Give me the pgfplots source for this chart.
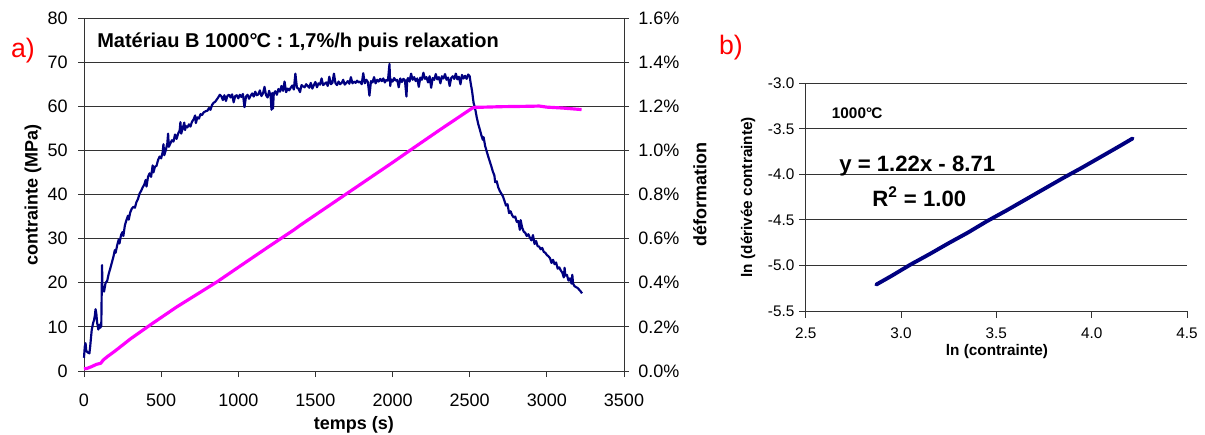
\documentclass[border=0pt]{standalone}
\usepackage{pgfplots}
\pgfplotsset{compat=1.18}
\usepackage{fontspec}
\setmainfont{Liberation Sans}
\definecolor{navy}{HTML}{000080}
\definecolor{mag}{HTML}{FF00FF}
\definecolor{gridc}{HTML}{333333}

\pgfplotstableread{
t s
0 3.0
5 5.5
10 6.3
15 4.5
25 4.2
35 4.0
40 5.5
50 9.3
60 11.0
65 11.5
70 12.5
75 14.0
80 13.0
85 11.0
93 9.4
100 10.5
105 9.8
112 10.2
117 24.0
120 18.0
125 18.8
130 18.0
140 20.0
150 20.4
160 22.0
170 23.2
180 24.5
190 25.8
200 27.4
205 26.8
215 28.5
225 29.8
230 28.9
240 30.8
250 31.5
255 30.6
265 33.0
275 34.2
285 35.2
290 34.3
300 36.0
310 36.8
320 37.2
330 37.0
340 38.3
350 39.0
360 40.2
370 40.8
380 41.6
390 42.2
400 43.3
405 41.8
415 44.0
425 44.8
435 44.0
445 46.6
450 45.0
460 46.3
470 46.5
480 47.8
490 48.6
500 48.2
510 49.6
515 51.4
520 48.9
530 50.0
540 51.6
545 53.8
550 50.8
560 51.6
570 52.3
580 52.0
590 53.6
600 52.6
610 53.8
620 54.5
625 56.4
630 53.8
640 55.0
650 56.3
655 54.6
660 55.5
670 55.2
680 55.9
690 55.4
700 56.5
710 57.0
720 57.9
725 56.2
735 57.5
745 57.2
755 58.2
765 58.0
775 58.6
790 58.9
800 59.0
810 59.6
820 59.2
830 60.3
840 60.8
850 61.0
860 61.5
870 62.0
880 62.6
890 62.3
900 61.4
910 62.5
920 61.2
930 62.4
940 62.6
950 62.0
960 62.7
970 60.9
980 62.3
990 62.5
1000 61.8
1010 62.6
1020 62.1
1030 62.8
1040 59.8
1050 62.2
1060 62.6
1070 61.7
1080 62.4
1090 62.9
1100 62.2
1110 63.3
1120 62.5
1130 62.7
1140 63.6
1150 62.3
1160 62.9
1170 64.4
1180 62.5
1190 62.0
1200 63.5
1210 62.2
1215 59.2
1220 63.0
1225 59.5
1230 62.9
1240 63.4
1250 62.6
1260 63.9
1270 63.3
1280 64.6
1290 63.5
1300 65.6
1310 63.2
1320 64.0
1330 63.6
1340 64.2
1350 64.7
1360 63.8
1370 67.4
1380 64.2
1390 64.0
1400 63.2
1410 64.8
1420 64.5
1430 64.3
1440 65.0
1450 64.6
1460 64.2
1470 65.3
1480 64.0
1490 64.8
1500 65.5
1510 64.3
1520 65.2
1530 64.9
1540 66.3
1550 64.8
1560 65.1
1570 65.4
1580 64.6
1590 66.7
1600 65.0
1610 65.3
1620 67.4
1630 65.2
1640 64.8
1650 65.6
1660 65.0
1670 65.3
1680 66.0
1690 64.9
1700 65.3
1710 65.7
1720 65.1
1730 66.6
1740 65.2
1750 65.6
1760 65.3
1770 65.8
1780 65.4
1790 65.6
1800 65.0
1810 67.5
1820 65.2
1830 66.0
1840 65.5
1850 62.4
1860 65.7
1870 65.4
1880 66.6
1890 65.2
1900 66.0
1910 65.6
1920 66.2
1930 65.7
1940 66.3
1950 65.4
1960 66.0
1970 65.8
1980 69.6
1985 64.6
1990 66.1
2000 65.6
2010 66.4
2020 65.8
2030 66.0
2040 64.3
2050 66.3
2060 65.5
2070 66.2
2080 65.9
2090 62.2
2095 66.0
2100 66.4
2110 65.6
2120 67.4
2130 66.0
2140 66.6
2150 65.7
2160 66.3
2170 64.4
2180 66.5
2190 66.0
2200 67.6
2210 66.2
2220 66.6
2230 65.4
2240 66.8
2250 64.2
2260 66.4
2270 66.0
2280 67.3
2290 66.1
2300 66.6
2310 65.2
2320 66.8
2330 66.3
2340 67.3
2350 66.0
2360 66.5
2370 64.6
2380 66.4
2390 66.8
2400 66.2
2410 67.4
2420 66.1
2430 66.7
2440 65.0
2450 67.1
2460 66.3
2470 66.9
2480 66.2
2490 67.2
2500 66.8
2505 65.5
2515 63.5
2525 60.8
2535 59.5
2545 57.6
2555 56.0
2565 54.8
2575 53.5
2585 52.4
2590 53.0
2600 51.0
2610 49.8
2620 48.6
2630 47.5
2640 46.4
2650 45.2
2660 44.3
2665 42.8
2675 43.0
2685 41.6
2695 40.8
2705 40.2
2715 39.6
2725 38.6
2735 37.5
2745 37.8
2755 35.8
2765 36.2
2775 35.3
2785 34.8
2795 35.0
2805 33.8
2815 34.0
2825 32.0
2830 34.2
2840 32.5
2850 31.6
2860 31.3
2870 30.6
2880 31.0
2890 30.2
2900 29.6
2910 30.8
2920 28.8
2930 29.5
2940 28.3
2950 28.2
2960 27.6
2970 27.9
2980 27.0
2990 26.8
3000 26.3
3010 26.0
3020 25.6
3030 24.5
3040 25.2
3050 24.2
3060 24.6
3070 23.2
3080 23.5
3090 22.8
3100 22.3
3110 21.2
3115 23.4
3120 21.6
3130 21.8
3140 20.5
3150 21.0
3160 19.8
3165 21.8
3170 19.8
3180 19.2
3190 19.0
3200 18.8
3210 18.4
3220 18.0
3228 17.6
}\stress

\pgfplotstableread{
t d
0 0.010
20 0.012
50 0.020
80 0.030
108 0.035
125 0.050
151 0.065
200 0.090
300 0.145
432 0.210
600 0.290
864 0.405
1000 0.470
1200 0.565
1361 0.640
1400 0.660
1600 0.755
1800 0.850
2000 0.945
2113 1.000
2300 1.090
2513 1.190
2530 1.195
2600 1.196
2700 1.198
2800 1.199
2900 1.200
2950 1.201
3000 1.196
3100 1.192
3225 1.185
}\deform

\pgfplotstableread{
x y
2.870 -5.210
2.950 -5.115
3.050 -4.990
3.150 -4.875
3.250 -4.755
3.350 -4.640
3.450 -4.515
3.550 -4.400
3.650 -4.280
3.750 -4.160
3.850 -4.040
3.950 -3.925
4.050 -3.805
4.150 -3.685
4.215 -3.605
}\lnfit

\begin{document}
\begin{tikzpicture}
\useasboundingbox (0,0) rectangle (723pt,260.4pt);
\pgfplotsset{
  common/.style={
    scale only axis, anchor=south west, clip=false,
    axis line style={draw=gridc, line width=0.6pt},
    tick style={draw=gridc, line width=0.6pt},
    grid style={draw=gridc, line width=0.6pt},
    tick align=outside,
    minor tick num=0,
  },
}
% ---------------- a) left axis ----------------
\begin{axis}[common,
  at={(50.4pt,37.8pt)}, width=324pt, height=211.8pt,
  xmin=0, xmax=3500, ymin=0, ymax=80,
  xtick={0,500,1000,1500,2000,2500,3000,3500},
  xticklabels={0,500,1000,1500,2000,2500,3000,3500},
  ytick={0,10,20,30,40,50,60,70,80},
  yticklabels={0,10,20,30,40,50,60,70,80},
  xtick pos=left, ytick pos=left,
  major tick length=3.6pt,
  ymajorgrids,
  ticklabel style={font=\fontsize{10.8}{12}\selectfont, inner sep=0pt},
  xticklabel style={anchor=north}, xticklabel shift=9.8pt,
  yticklabel style={anchor=east}, yticklabel shift=6pt,
  xlabel={temps (s)}, ylabel={contrainte (MPa)},
  label style={font=\bfseries\fontsize{10.8}{13}\selectfont},
  xlabel style={at={(axis description cs:0.5,-0.153)}, anchor=center},
  ylabel style={at={(axis description cs:-0.0944,0.5)}, anchor=center},
]
\addplot[navy, line width=1.3pt, line join=round] table[x=t, y=s] {\stress};
\node[anchor=west, inner sep=0pt, font=\bfseries\fontsize{12}{14}\selectfont] at (axis description cs:0.024,0.932) {Matériau B 1000°\kern-0.05em C : 1,7\%/h puis relaxation};
\node[red, font=\fontsize{16}{18}\selectfont] at (axis description cs:-0.113,0.909) {a)};
\end{axis}
\begin{axis}[common,
  at={(50.4pt,37.8pt)}, width=324pt, height=211.8pt,
  xmin=0, xmax=3500, ymin=0, ymax=1.6,
  axis x line=none, axis y line*=right,
  ytick={0,0.2,0.4,0.6,0.8,1.0,1.2,1.4,1.6},
  yticklabels={0.0\%,0.2\%,0.4\%,0.6\%,0.8\%,1.0\%,1.2\%,1.4\%,1.6\%},
  major tick length=3pt,
  ticklabel style={font=\fontsize{10.8}{12}\selectfont, inner sep=0pt},
  yticklabel style={anchor=west}, yticklabel shift=5.4pt,
  ylabel={déformation},
  label style={font=\bfseries\fontsize{10.8}{13}\selectfont},
  ylabel style={at={(axis description cs:1.1407,0.5)}, anchor=center, rotate=0},
]
\addplot[mag, line width=1.9pt, line join=round] table[x=t, y=d] {\deform};
\end{axis}
% ---------------- b) right axis ----------------
\begin{axis}[common,
  at={(483.4pt,73.8pt)}, width=228.8pt, height=136.6pt,
  xmin=2.5, xmax=4.5, ymin=-5.5, ymax=-3.0,
  axis x line*=bottom, axis y line*=left,
  axis line style={-},
  xtick={2.5,3.0,3.5,4.0,4.5},
  xticklabels={2.5,3.0,3.5,4.0,4.5},
  ytick={-5.5,-5.0,-4.5,-4.0,-3.5,-3.0},
  yticklabels={-5.5,-5.0,-4.5,-4.0,-3.5,-3.0},
  ymajorgrids,
  major tick length=4pt,
  ticklabel style={font=\fontsize{9.2}{11}\selectfont, inner sep=0pt},
  xticklabel style={anchor=north}, xticklabel shift=5.8pt,
  yticklabel style={anchor=east}, yticklabel shift=2.6pt,
  xlabel={ln (contrainte)}, ylabel={ln (dérivée contrainte)},
  label style={font=\bfseries\fontsize{9.2}{11}\selectfont},
  xlabel style={at={(axis description cs:0.5017,-0.179)}, anchor=center},
  ylabel style={at={(axis description cs:-0.151,0.5)}, anchor=center},
]
\addplot[navy, line width=2.3pt, line cap=round] table[x=x, y=y] {\lnfit};
\node[anchor=west, inner sep=0pt, font=\bfseries\fontsize{9.2}{10}\selectfont] at (axis description cs:0.068,0.870) {1000°\kern-0.05em C};
\node[anchor=west, inner sep=0pt, font=\bfseries\fontsize{13.3}{15}\selectfont] at (axis description cs:0.0873,0.637) {y = 1.22x - 8.71};
\node[anchor=west, inner sep=0pt, font=\bfseries\fontsize{13.3}{15}\selectfont] at (axis description cs:0.174,0.502) {R\textsuperscript{2} = 1.00};
\node[red, font=\fontsize{16}{18}\selectfont] at (axis description cs:-0.196,1.159) {b)};
\end{axis}
\end{tikzpicture}
\end{document}
